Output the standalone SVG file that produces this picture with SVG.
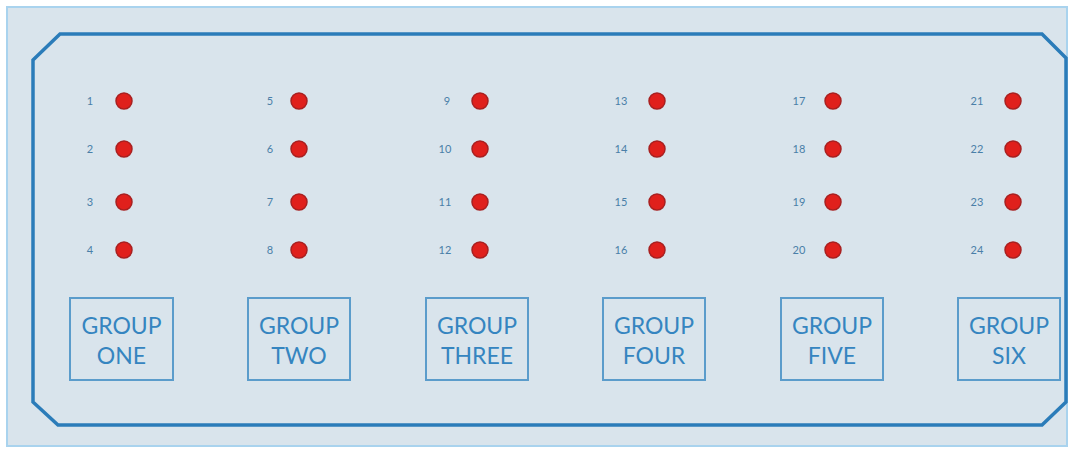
<svg xmlns="http://www.w3.org/2000/svg" width="1072" height="453" viewBox="0 0 1072 453">
<style>
.num{font-family:Lato,"Liberation Sans",sans-serif;font-size:11px;fill:#4a7fa8;text-anchor:middle}
.dot{fill:#e0201c;stroke:#a82020;stroke-width:1.5}
.box{fill:none;stroke:#5b9ccb;stroke-width:2}
.lbl{font-family:Lato,"Liberation Sans",sans-serif;font-size:23px;fill:#3585c0;text-anchor:middle}
</style>
<rect x="0" y="0" width="1072" height="453" fill="#ffffff"/>
<rect id="panel" x="7" y="7" width="1060" height="439" fill="#d9e4ec" stroke="#a9d3ee" stroke-width="2"/>
<g id="frame"><path d="M60,34 L1042,34 L1066,58 L1066,402 L1042,425 L58,425 L33,402 L33,60 Z" fill="none" stroke="#2b7cb9" stroke-width="3.5"/></g>
<g id="group1">
<text class="num" x="90" y="105">1</text><circle class="dot" cx="124" cy="101" r="8"/>
<text class="num" x="90" y="153">2</text><circle class="dot" cx="124" cy="149" r="8"/>
<text class="num" x="90" y="206">3</text><circle class="dot" cx="124" cy="202" r="8"/>
<text class="num" x="90" y="254">4</text><circle class="dot" cx="124" cy="250" r="8"/>
<rect class="box" x="70" y="298" width="103" height="82"/>
<text class="lbl" x="121.5" y="334">GROUP</text><text class="lbl" x="121.5" y="364">ONE</text>
</g>
<g id="group2">
<text class="num" x="270" y="105">5</text><circle class="dot" cx="299" cy="101" r="8"/>
<text class="num" x="270" y="153">6</text><circle class="dot" cx="299" cy="149" r="8"/>
<text class="num" x="270" y="206">7</text><circle class="dot" cx="299" cy="202" r="8"/>
<text class="num" x="270" y="254">8</text><circle class="dot" cx="299" cy="250" r="8"/>
<rect class="box" x="248" y="298" width="102" height="82"/>
<text class="lbl" x="299" y="334">GROUP</text><text class="lbl" x="299" y="364">TWO</text>
</g>
<g id="group3">
<text class="num" x="447" y="105">9</text><circle class="dot" cx="480" cy="101" r="8"/>
<text class="num" x="445" y="153">10</text><circle class="dot" cx="480" cy="149" r="8"/>
<text class="num" x="445" y="206">11</text><circle class="dot" cx="480" cy="202" r="8"/>
<text class="num" x="445" y="254">12</text><circle class="dot" cx="480" cy="250" r="8"/>
<rect class="box" x="426" y="298" width="102" height="82"/>
<text class="lbl" x="477" y="334">GROUP</text><text class="lbl" x="477" y="364">THREE</text>
</g>
<g id="group4">
<text class="num" x="621" y="105">13</text><circle class="dot" cx="657" cy="101" r="8"/>
<text class="num" x="621" y="153">14</text><circle class="dot" cx="657" cy="149" r="8"/>
<text class="num" x="621" y="206">15</text><circle class="dot" cx="657" cy="202" r="8"/>
<text class="num" x="621" y="254">16</text><circle class="dot" cx="657" cy="250" r="8"/>
<rect class="box" x="603" y="298" width="102" height="82"/>
<text class="lbl" x="654" y="334">GROUP</text><text class="lbl" x="654" y="364">FOUR</text>
</g>
<g id="group5">
<text class="num" x="799" y="105">17</text><circle class="dot" cx="833" cy="101" r="8"/>
<text class="num" x="799" y="153">18</text><circle class="dot" cx="833" cy="149" r="8"/>
<text class="num" x="799" y="206">19</text><circle class="dot" cx="833" cy="202" r="8"/>
<text class="num" x="799" y="254">20</text><circle class="dot" cx="833" cy="250" r="8"/>
<rect class="box" x="781" y="298" width="102" height="82"/>
<text class="lbl" x="832" y="334">GROUP</text><text class="lbl" x="832" y="364">FIVE</text>
</g>
<g id="group6">
<text class="num" x="977" y="105">21</text><circle class="dot" cx="1013" cy="101" r="8"/>
<text class="num" x="977" y="153">22</text><circle class="dot" cx="1013" cy="149" r="8"/>
<text class="num" x="977" y="206">23</text><circle class="dot" cx="1013" cy="202" r="8"/>
<text class="num" x="977" y="254">24</text><circle class="dot" cx="1013" cy="250" r="8"/>
<rect class="box" x="958" y="298" width="102" height="82"/>
<text class="lbl" x="1009" y="334">GROUP</text><text class="lbl" x="1009" y="364">SIX</text>
</g>
<g id="connectors"/>
</svg>
